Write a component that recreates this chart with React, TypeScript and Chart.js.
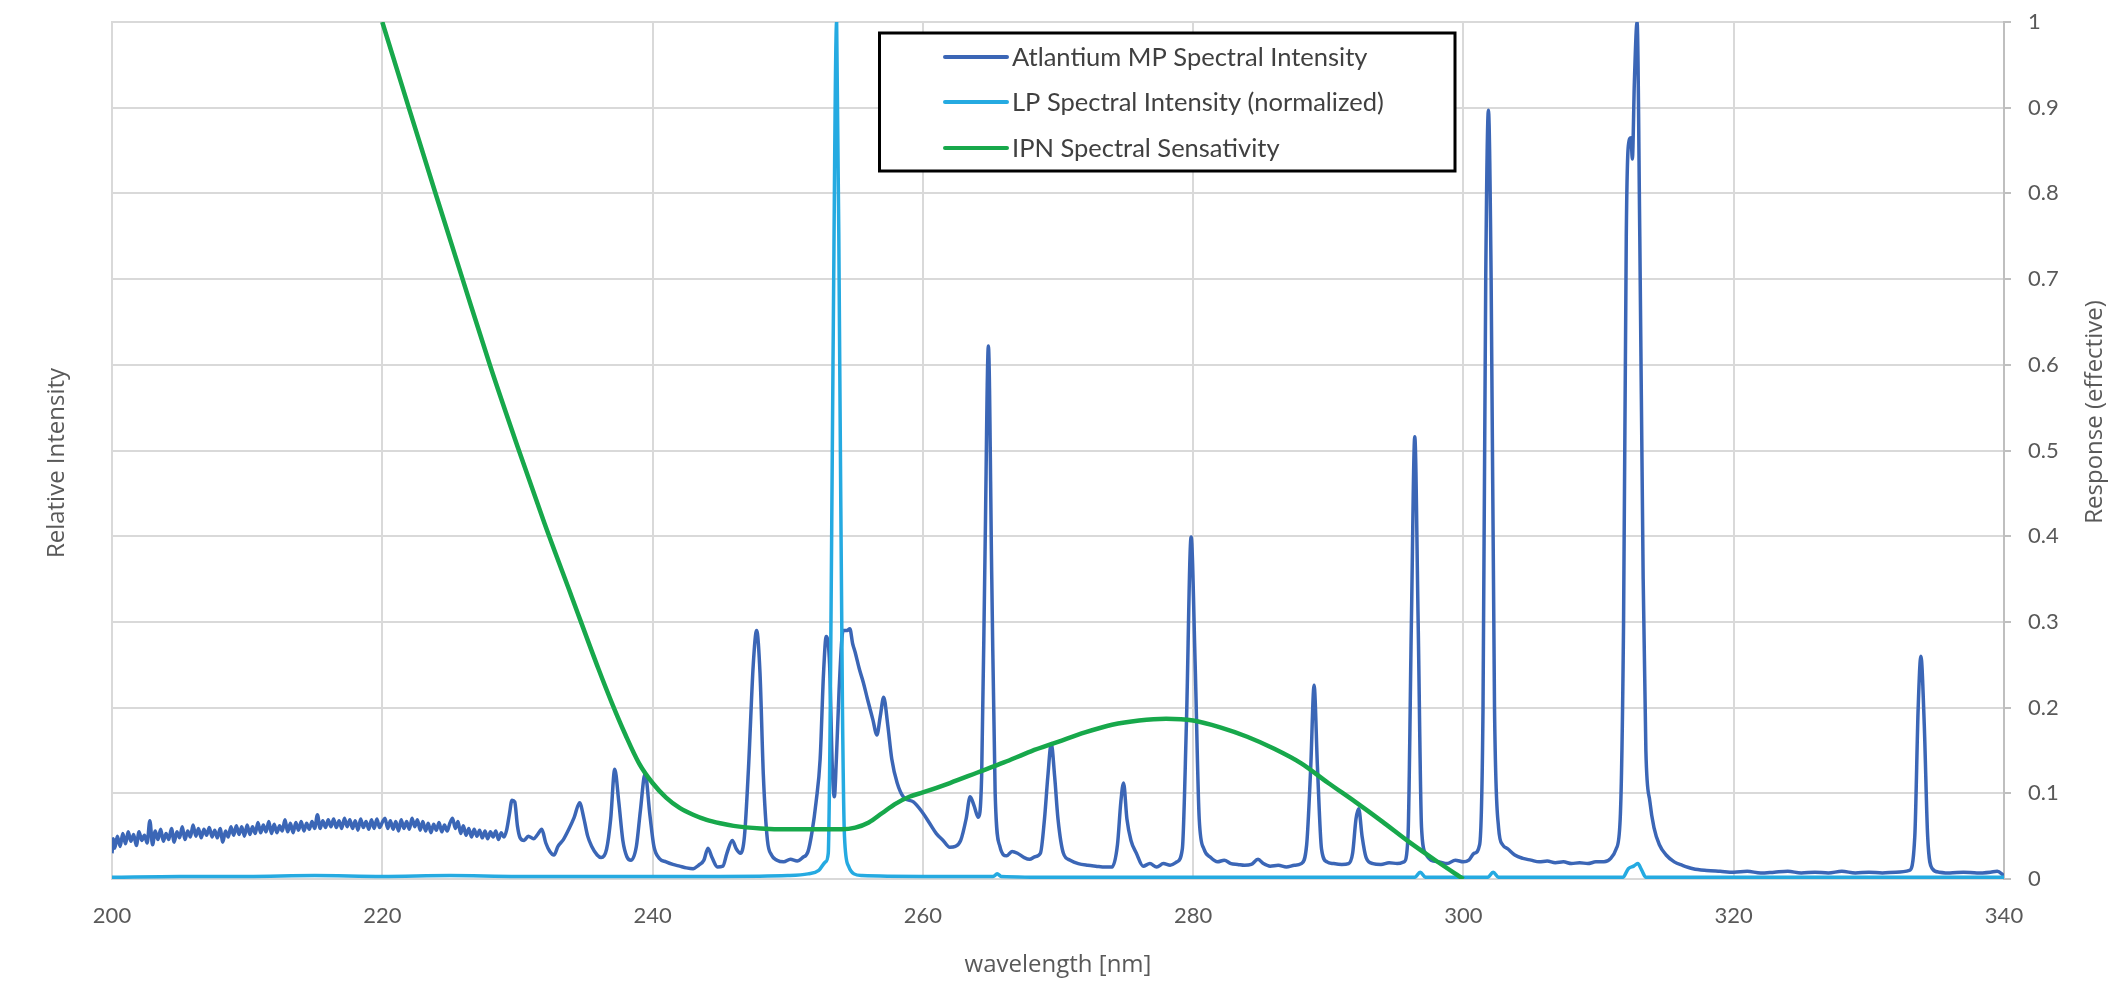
import React, { useEffect, useRef } from 'react';
import Chart from 'chart.js/auto';

// [wavelength nm, relative intensity]
const mpSpectrum: [number, number][] = [
  [200.0, 0.03], [200.1, 0.047], [200.2, 0.036], [200.4, 0.05], [200.6, 0.038], [200.8, 0.053], [201.0, 0.041], [201.2, 0.055],
  [201.4, 0.044], [201.6, 0.052], [201.8, 0.039], [202.0, 0.055], [202.2, 0.045], [202.4, 0.051], [202.6, 0.042], [202.8, 0.068],
  [203.0, 0.04], [203.2, 0.056], [203.4, 0.046], [203.6, 0.058], [203.8, 0.044], [204.0, 0.053], [204.2, 0.046], [204.4, 0.059],
  [204.6, 0.043], [204.8, 0.055], [205.0, 0.048], [205.2, 0.061], [205.4, 0.046], [205.6, 0.056], [205.8, 0.049], [206.0, 0.063],
  [206.2, 0.05], [206.4, 0.059], [206.6, 0.048], [206.8, 0.058], [207.0, 0.051], [207.2, 0.06], [207.4, 0.049], [207.6, 0.057],
  [207.8, 0.048], [208.0, 0.059], [208.2, 0.043], [208.4, 0.056], [208.6, 0.049], [208.8, 0.061], [209.0, 0.051], [209.2, 0.062],
  [209.4, 0.052], [209.6, 0.061], [209.8, 0.05], [210.0, 0.063], [210.2, 0.052], [210.4, 0.061], [210.6, 0.053], [210.8, 0.066],
  [211.0, 0.054], [211.2, 0.063], [211.4, 0.055], [211.6, 0.067], [211.8, 0.053], [212.0, 0.064], [212.2, 0.054], [212.4, 0.062],
  [212.6, 0.056], [212.8, 0.069], [213.0, 0.055], [213.2, 0.065], [213.4, 0.054], [213.6, 0.066], [213.8, 0.057], [214.0, 0.067],
  [214.2, 0.056], [214.4, 0.065], [214.6, 0.058], [214.8, 0.067], [215.0, 0.059], [215.2, 0.075], [215.4, 0.059], [215.6, 0.068],
  [215.8, 0.06], [216.0, 0.069], [216.2, 0.061], [216.4, 0.07], [216.6, 0.06], [216.8, 0.068], [217.0, 0.059], [217.2, 0.071],
  [217.4, 0.061], [217.6, 0.069], [217.8, 0.059], [218.0, 0.068], [218.2, 0.057], [218.4, 0.07], [218.6, 0.06], [218.8, 0.067],
  [219.0, 0.058], [219.2, 0.069], [219.4, 0.059], [219.6, 0.07], [219.8, 0.06], [220.0, 0.066], [220.2, 0.071], [220.4, 0.059],
  [220.6, 0.068], [220.8, 0.058], [221.0, 0.067], [221.2, 0.056], [221.4, 0.069], [221.6, 0.059], [221.8, 0.067], [222.0, 0.058],
  [222.2, 0.071], [222.4, 0.061], [222.6, 0.069], [222.8, 0.057], [223.0, 0.067], [223.2, 0.056], [223.4, 0.065], [223.6, 0.054],
  [223.8, 0.064], [224.0, 0.057], [224.2, 0.066], [224.4, 0.055], [224.6, 0.063], [224.8, 0.056], [225.0, 0.065], [225.2, 0.071],
  [225.4, 0.059], [225.6, 0.067], [225.8, 0.053], [226.0, 0.062], [226.2, 0.051], [226.4, 0.059], [226.6, 0.049], [226.8, 0.058],
  [227.0, 0.05], [227.2, 0.057], [227.4, 0.048], [227.6, 0.056], [227.8, 0.047], [228.0, 0.055], [228.2, 0.049], [228.4, 0.056],
  [228.6, 0.046], [228.8, 0.054], [229.0, 0.049], [229.2, 0.057], [229.4, 0.075], [229.6, 0.092], [229.8, 0.09], [230.0, 0.062],
  [230.2, 0.048], [230.5, 0.045], [230.8, 0.05], [231.2, 0.047], [231.5, 0.052], [231.8, 0.058], [232.1, 0.042], [232.4, 0.032],
  [232.7, 0.028], [233.0, 0.038], [233.4, 0.046], [233.8, 0.058], [234.2, 0.072], [234.6, 0.089], [234.9, 0.072], [235.2, 0.05],
  [235.5, 0.038], [235.9, 0.028], [236.2, 0.025], [236.6, 0.035], [236.9, 0.07], [237.2, 0.128], [237.5, 0.09], [237.8, 0.045],
  [238.1, 0.026], [238.4, 0.022], [238.8, 0.038], [239.1, 0.08], [239.45, 0.123], [239.8, 0.075], [240.1, 0.038], [240.5, 0.024],
  [241.0, 0.02], [241.5, 0.017], [242.0, 0.015], [242.5, 0.013], [243.0, 0.012], [243.4, 0.016], [243.8, 0.022], [244.1, 0.036],
  [244.4, 0.025], [244.8, 0.014], [245.2, 0.015], [245.5, 0.03], [245.9, 0.045], [246.2, 0.035], [246.5, 0.03], [246.8, 0.05],
  [247.1, 0.13], [247.45, 0.25], [247.7, 0.29], [247.95, 0.24], [248.2, 0.12], [248.5, 0.045], [248.8, 0.028], [249.2, 0.022],
  [249.7, 0.02], [250.2, 0.023], [250.7, 0.021], [251.1, 0.025], [251.5, 0.032], [251.8, 0.055], [252.1, 0.09], [252.4, 0.14],
  [252.65, 0.24], [252.85, 0.283], [253.1, 0.25], [253.3, 0.13], [253.45, 0.096], [253.6, 0.14], [253.8, 0.22], [254.1, 0.29],
  [254.4, 0.29], [254.6, 0.292], [254.8, 0.275], [255.0, 0.264], [255.3, 0.245], [255.6, 0.229], [255.9, 0.21], [256.3, 0.186],
  [256.6, 0.168], [256.85, 0.19], [257.1, 0.212], [257.4, 0.18], [257.7, 0.14], [258.1, 0.112], [258.6, 0.095], [259.3, 0.09],
  [260.0, 0.077], [260.5, 0.065], [261.0, 0.053], [261.5, 0.045], [262.0, 0.037], [262.4, 0.038], [262.8, 0.045], [263.2, 0.07],
  [263.5, 0.096], [263.8, 0.085], [264.1, 0.072], [264.35, 0.12], [264.6, 0.38], [264.85, 0.622], [265.1, 0.35], [265.35, 0.1],
  [265.7, 0.038], [266.2, 0.027], [266.6, 0.032], [267.0, 0.03], [267.5, 0.025], [267.9, 0.023], [268.3, 0.026], [268.7, 0.03],
  [269.0, 0.07], [269.25, 0.12], [269.5, 0.158], [269.75, 0.12], [270.0, 0.07], [270.4, 0.03], [270.9, 0.022], [271.5, 0.018],
  [272.2, 0.016], [272.8, 0.015], [273.5, 0.014], [274.0, 0.014], [274.4, 0.04], [274.65, 0.09], [274.85, 0.112], [275.1, 0.07],
  [275.4, 0.045], [275.8, 0.03], [276.3, 0.015], [276.8, 0.018], [277.3, 0.014], [277.8, 0.018], [278.3, 0.016], [278.8, 0.02],
  [279.2, 0.035], [279.5, 0.18], [279.85, 0.399], [280.15, 0.25], [280.45, 0.07], [280.8, 0.035], [281.3, 0.025], [281.8, 0.02],
  [282.3, 0.022], [282.8, 0.018], [283.3, 0.017], [283.8, 0.016], [284.3, 0.017], [284.8, 0.023], [285.2, 0.018], [285.7, 0.015],
  [286.3, 0.016], [286.9, 0.014], [287.5, 0.016], [288.0, 0.018], [288.4, 0.04], [288.7, 0.13], [288.95, 0.226], [289.2, 0.13],
  [289.5, 0.035], [289.9, 0.02], [290.4, 0.018], [291.0, 0.017], [291.5, 0.018], [291.8, 0.03], [292.05, 0.07], [292.25, 0.082],
  [292.5, 0.05], [292.8, 0.025], [293.3, 0.018], [293.9, 0.017], [294.5, 0.019], [295.1, 0.018], [295.6, 0.02], [295.9, 0.05],
  [296.15, 0.3], [296.4, 0.516], [296.65, 0.3], [296.9, 0.06], [297.2, 0.03], [297.6, 0.022], [298.2, 0.02], [298.8, 0.018],
  [299.4, 0.022], [300.0, 0.02], [300.4, 0.022], [300.8, 0.03], [301.2, 0.04], [301.45, 0.2], [301.65, 0.7], [301.85, 0.897],
  [302.05, 0.7], [302.3, 0.2], [302.6, 0.06], [302.9, 0.04], [303.3, 0.035], [303.8, 0.028], [304.4, 0.024], [305.0, 0.022],
  [305.6, 0.02], [306.2, 0.021], [306.8, 0.019], [307.4, 0.02], [308.0, 0.018], [308.6, 0.019], [309.2, 0.018], [309.8, 0.02],
  [310.4, 0.02], [310.9, 0.024], [311.3, 0.035], [311.6, 0.07], [311.85, 0.3], [312.05, 0.75], [312.2, 0.855], [312.4, 0.865],
  [312.5, 0.84], [312.65, 0.93], [312.85, 1.0], [313.05, 0.75], [313.3, 0.35], [313.5, 0.15], [313.8, 0.09], [314.1, 0.06],
  [314.5, 0.04], [315.0, 0.028], [315.6, 0.02], [316.2, 0.016], [317.0, 0.012], [318.0, 0.01], [319.0, 0.009], [320.0, 0.008],
  [321.0, 0.009], [322.0, 0.007], [323.0, 0.008], [324.0, 0.009], [325.0, 0.007], [326.0, 0.008], [327.0, 0.007], [328.0, 0.009],
  [329.0, 0.007], [330.0, 0.008], [331.0, 0.007], [332.0, 0.008], [333.0, 0.01], [333.4, 0.05], [333.65, 0.2], [333.85, 0.26],
  [334.1, 0.18], [334.35, 0.05], [334.7, 0.012], [335.2, 0.008], [336.0, 0.007], [337.0, 0.008], [338.0, 0.007], [339.0, 0.008],
  [339.5, 0.009], [340.0, 0.004],
];

const lpSpectrum: [number, number][] = [
  [200, 0.002], [205, 0.003], [210, 0.003], [215, 0.004], [220, 0.003], [225, 0.004], [230, 0.003], [235, 0.003],
  [240, 0.003], [245, 0.003], [250, 0.004], [251.5, 0.006], [252.3, 0.01], [252.8, 0.02], [253.0, 0.03], [253.15, 0.2],
  [253.35, 0.6], [253.62, 1.0], [253.85, 0.6], [254.05, 0.2], [254.2, 0.05], [254.5, 0.015], [254.9, 0.006], [255.5, 0.004],
  [260, 0.003], [265.2, 0.003], [265.5, 0.006], [265.8, 0.003], [270, 0.002], [280, 0.002], [290, 0.002], [296.4, 0.002],
  [296.8, 0.008], [297.2, 0.002], [301.8, 0.002], [302.2, 0.008], [302.6, 0.002], [311.8, 0.002], [312.2, 0.012], [312.6, 0.015],
  [312.9, 0.018], [313.2, 0.01], [313.5, 0.002], [320, 0.002], [330, 0.002], [340, 0.002],
];

const ipnSensitivity: [number, number][] = [
  [220, 1.0], [222, 0.898], [224, 0.797], [226, 0.697], [228, 0.598], [230, 0.505], [232, 0.415], [234, 0.33],
  [236, 0.245], [237, 0.205], [238, 0.168], [239, 0.135], [240, 0.112], [241, 0.095], [242, 0.083], [243, 0.075],
  [244, 0.069], [245, 0.065], [246, 0.062], [248, 0.059], [250, 0.058], [252, 0.058], [254, 0.058], [255, 0.06],
  [256, 0.066], [257, 0.077], [258, 0.088], [259, 0.096], [260, 0.101], [262, 0.112], [264, 0.124], [266, 0.136],
  [268, 0.149], [270, 0.16], [272, 0.171], [274, 0.18], [276, 0.185], [278, 0.187], [280, 0.185], [282, 0.177],
  [284, 0.166], [286, 0.152], [288, 0.135], [290, 0.112], [292, 0.09], [294, 0.067], [296, 0.043], [298, 0.021],
  [300, 0.0],
];

const seriesNames = ['Atlantium MP Spectral Intensity', 'LP Spectral Intensity (normalized)', 'IPN Spectral Sensativity'];
const seriesColors = ['#3b66b6', '#25aae1', '#17a84b'];
const xTitle = 'wavelength [nm]';
const leftTitle = 'Relative Intensity';
const rightTitle = 'Response (effective)';

const gridColor = '#d9d9d9';
const textColor = '#595959';

const toPoints = (pairs: [number, number][]) => pairs.map(([x, y]) => ({ x, y }));

// legend box inside the plot + the two vertical titles
const overlayPlugin = {
  id: 'overlay',
  afterDraw(chart: any) {
    const { ctx, chartArea } = chart;
    ctx.save();

    ctx.font = '24px "Open Sans"';
    ctx.fillStyle = textColor;
    ctx.textAlign = 'center';
    ctx.textBaseline = 'middle';
    ctx.save();
    ctx.translate(49, 455);
    ctx.rotate(-Math.PI / 2);
    ctx.fillText(leftTitle, 0, 0);
    ctx.restore();
    ctx.save();
    ctx.translate(chart.width - 23, 404);
    ctx.rotate(-Math.PI / 2);
    ctx.fillText(rightTitle, 0, 0);
    ctx.restore();

    const bx = chartArea.left + 767.5;
    const by = chartArea.top + 11;
    const bw = 575.5;
    const bh = 138;
    ctx.fillStyle = '#ffffff';
    ctx.fillRect(bx, by, bw, bh);
    ctx.lineWidth = 3;
    ctx.strokeStyle = '#000000';
    ctx.strokeRect(bx, by, bw, bh);

    const rows = [24, 69, 115];
    ctx.font = '25.5px Lato';
    ctx.textAlign = 'left';
    ctx.textBaseline = 'middle';
    seriesNames.forEach((name, i) => {
      const y = by + rows[i];
      ctx.beginPath();
      ctx.moveTo(bx + 65.5, y);
      ctx.lineTo(bx + 127.5, y);
      ctx.lineWidth = 4;
      ctx.lineCap = 'round';
      ctx.strokeStyle = seriesColors[i];
      ctx.stroke();
      ctx.fillStyle = '#404040';
      ctx.fillText(name, bx + 132.5, y + 1);
    });
    ctx.restore();
  },
};

const SpectrumChart: React.FC = () => {
  const chartRef = useRef<HTMLCanvasElement>(null);
  const chartInstance = useRef<Chart | null>(null);

  useEffect(() => {
    if (!chartRef.current) return;
    const ctx = chartRef.current.getContext('2d');
    if (!ctx) return;
    if (chartInstance.current) chartInstance.current.destroy();

    chartInstance.current = new Chart(ctx, {
      type: 'line',
      data: {
        datasets: [
          {
            label: seriesNames[0],
            data: toPoints(mpSpectrum),
            borderColor: seriesColors[0],
            borderWidth: 3.5,
            pointRadius: 0,
            cubicInterpolationMode: 'monotone',
            order: 3,
            yAxisID: 'y',
          },
          {
            label: seriesNames[1],
            data: toPoints(lpSpectrum),
            borderColor: seriesColors[1],
            borderWidth: 3.5,
            pointRadius: 0,
            cubicInterpolationMode: 'monotone',
            order: 2,
            yAxisID: 'y',
          },
          {
            label: seriesNames[2],
            data: toPoints(ipnSensitivity),
            borderColor: seriesColors[2],
            borderWidth: 4.5,
            pointRadius: 0,
            cubicInterpolationMode: 'monotone',
            order: 1,
            yAxisID: 'y',
          },
        ],
      },
      options: {
        animation: false,
        responsive: true,
        maintainAspectRatio: false,
        parsing: false,
        layout: { padding: { top: 14, left: 0, right: 0, bottom: 0 } },
        plugins: {
          legend: { display: false },
          tooltip: { enabled: false },
        },
        scales: {
          x: {
            type: 'linear',
            min: 200,
            max: 340,
            ticks: {
              stepSize: 20,
              padding: 24,
              color: textColor,
              font: { family: 'Lato', size: 22 },
            },
            grid: { color: gridColor, lineWidth: 2, drawTicks: false },
            border: { display: true, color: gridColor, width: 2 },
            title: {
              display: true,
              text: xTitle,
              color: textColor,
              font: { family: 'Open Sans', size: 24 },
              padding: { top: 0, bottom: 7 },
            },
            afterFit: (scale: any) => {
              scale.height = 108;
              scale.paddingLeft = 0;
              scale.paddingRight = 0;
            },
          },
          y: {
            type: 'linear',
            position: 'left',
            min: 0,
            max: 1,
            ticks: { stepSize: 0.1, display: false },
            grid: { color: gridColor, lineWidth: 2, drawTicks: false },
            border: { display: true, color: gridColor, width: 2 },
            afterFit: (scale: any) => {
              scale.width = 104;
              scale.paddingTop = 0;
              scale.paddingBottom = 0;
            },
          },
          y2: {
            type: 'linear',
            position: 'right',
            min: 0,
            max: 1,
            ticks: {
              stepSize: 0.1,
              padding: 17,
              color: textColor,
              font: { family: 'Lato', size: 22 },
              callback: (v: any) => String(Number(Number(v).toFixed(1))),
            },
            grid: { drawOnChartArea: false, drawTicks: true, tickLength: 7, color: '#bfbfbf', lineWidth: 2 },
            border: { display: true, color: '#bfbfbf', width: 2 },
            afterFit: (scale: any) => {
              scale.width = 114;
              scale.paddingTop = 0;
              scale.paddingBottom = 0;
            },
          },
        },
      },
      plugins: [overlayPlugin],
    });

    return () => {
      if (chartInstance.current) {
        chartInstance.current.destroy();
        chartInstance.current = null;
      }
    };
  }, []);

  return (
    <div style={{ position: 'relative', width: '2110px', height: '979px', background: '#ffffff' }}>
      <canvas ref={chartRef} />
    </div>
  );
};

const App: React.FC = () => <SpectrumChart />;

export default App;
